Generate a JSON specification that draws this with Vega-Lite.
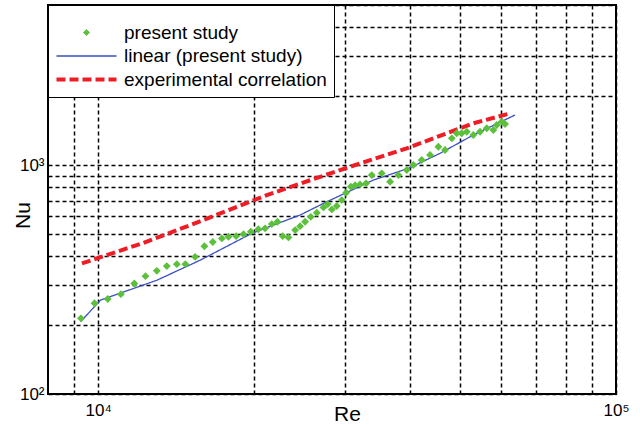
{
  "$schema": "https://vega.github.io/schema/vega-lite/v6.json",
  "width": 568,
  "height": 389,
  "autosize": {"type": "none"},
  "padding": {"left": 48, "top": 5, "right": 24, "bottom": 31},
  "background": "white",
  "config": {
    "font": "Liberation Sans",
    "view": {"stroke": "black", "strokeWidth": 2},
    "axis": {
      "grid": true,
      "gridColor": "black",
      "gridOpacity": 1,
      "gridWidth": 1.5,
      "gridDash": [4, 3],
      "ticks": false,
      "domain": false,
      "labelFont": "Liberation Sans",
      "labelFontSize": 17,
      "labelColor": "black",
      "titleFont": "Liberation Sans",
      "titleFontSize": 21,
      "titleFontWeight": "normal",
      "titleColor": "black"
    },
    "legend": {
      "titleColor": "white",
      "titleFontSize": 4,
      "titlePadding": 7,
      "orient": "none",
      "legendX": 0,
      "legendY": 0,
      "fillColor": "white",
      "strokeColor": "black",
      "padding": 7,
      "symbolSize": 36,
      "symbolOffset": 22,
      "labelOffset": 28,
      "labelFontSize": 19,
      "labelFont": "Liberation Sans",
      "labelColor": "black",
      "labelLimit": 400,
      "rowPadding": 3.5
    }
  },
  "data": {
    "values": [
      {"series": "present study", "Re": 9263, "Nu": 214},
      {"series": "present study", "Re": 9838, "Nu": 249},
      {"series": "present study", "Re": 10435, "Nu": 260},
      {"series": "present study", "Re": 11063, "Nu": 273},
      {"series": "present study", "Re": 11742, "Nu": 304},
      {"series": "present study", "Re": 12340, "Nu": 327},
      {"series": "present study", "Re": 12979, "Nu": 345},
      {"series": "present study", "Re": 13567, "Nu": 362},
      {"series": "present study", "Re": 14187, "Nu": 369},
      {"series": "present study", "Re": 14735, "Nu": 369},
      {"series": "present study", "Re": 15386, "Nu": 397},
      {"series": "present study", "Re": 16036, "Nu": 442},
      {"series": "present study", "Re": 16647, "Nu": 461},
      {"series": "present study", "Re": 17329, "Nu": 478},
      {"series": "present study", "Re": 17848, "Nu": 486},
      {"series": "present study", "Re": 18469, "Nu": 489},
      {"series": "present study", "Re": 19081, "Nu": 499},
      {"series": "present study", "Re": 19713, "Nu": 511},
      {"series": "present study", "Re": 20386, "Nu": 524},
      {"series": "present study", "Re": 21008, "Nu": 529},
      {"series": "present study", "Re": 21640, "Nu": 552},
      {"series": "present study", "Re": 22192, "Nu": 565},
      {"series": "present study", "Re": 22722, "Nu": 489},
      {"series": "present study", "Re": 23305, "Nu": 483},
      {"series": "present study", "Re": 24010, "Nu": 520},
      {"series": "present study", "Re": 24541, "Nu": 541},
      {"series": "present study", "Re": 25093, "Nu": 565},
      {"series": "present study", "Re": 25737, "Nu": 594},
      {"series": "present study", "Re": 26433, "Nu": 619},
      {"series": "present study", "Re": 27231, "Nu": 653},
      {"series": "present study", "Re": 27763, "Nu": 675},
      {"series": "present study", "Re": 28264, "Nu": 640},
      {"series": "present study", "Re": 28889, "Nu": 662},
      {"series": "present study", "Re": 29544, "Nu": 703},
      {"series": "present study", "Re": 30118, "Nu": 757},
      {"series": "present study", "Re": 30753, "Nu": 804},
      {"series": "present study", "Re": 31347, "Nu": 817},
      {"series": "present study", "Re": 32044, "Nu": 823},
      {"series": "present study", "Re": 32916, "Nu": 832},
      {"series": "present study", "Re": 33757, "Nu": 904},
      {"series": "present study", "Re": 35286, "Nu": 920},
      {"series": "present study", "Re": 36620, "Nu": 845},
      {"series": "present study", "Re": 37996, "Nu": 904},
      {"series": "present study", "Re": 39435, "Nu": 951},
      {"series": "present study", "Re": 40616, "Nu": 1000},
      {"series": "present study", "Re": 42148, "Nu": 1052},
      {"series": "present study", "Re": 43743, "Nu": 1106},
      {"series": "present study", "Re": 45389, "Nu": 1202},
      {"series": "present study", "Re": 46758, "Nu": 1163},
      {"series": "present study", "Re": 48179, "Nu": 1308},
      {"series": "present study", "Re": 49251, "Nu": 1376},
      {"series": "present study", "Re": 50364, "Nu": 1376},
      {"series": "present study", "Re": 51497, "Nu": 1398},
      {"series": "present study", "Re": 53023, "Nu": 1353},
      {"series": "present study", "Re": 54632, "Nu": 1398},
      {"series": "present study", "Re": 56282, "Nu": 1447},
      {"series": "present study", "Re": 57954, "Nu": 1422},
      {"series": "present study", "Re": 58842, "Nu": 1496},
      {"series": "present study", "Re": 60163, "Nu": 1547},
      {"series": "present study", "Re": 61052, "Nu": 1511},
      {"series": "linear (present study)", "Re": 9249, "Nu": 207},
      {"series": "linear (present study)", "Re": 10102, "Nu": 257},
      {"series": "linear (present study)", "Re": 12981, "Nu": 314},
      {"series": "linear (present study)", "Re": 15737, "Nu": 384},
      {"series": "linear (present study)", "Re": 19799, "Nu": 503},
      {"series": "linear (present study)", "Re": 24545, "Nu": 605},
      {"series": "linear (present study)", "Re": 27636, "Nu": 691},
      {"series": "linear (present study)", "Re": 34001, "Nu": 860},
      {"series": "linear (present study)", "Re": 39722, "Nu": 967},
      {"series": "linear (present study)", "Re": 45733, "Nu": 1125},
      {"series": "linear (present study)", "Re": 53023, "Nu": 1353},
      {"series": "linear (present study)", "Re": 63830, "Nu": 1654},
      {"series": "experimental correlation", "Re": 9303, "Nu": 372},
      {"series": "experimental correlation", "Re": 12230, "Nu": 457},
      {"series": "experimental correlation", "Re": 15967, "Nu": 575},
      {"series": "experimental correlation", "Re": 21171, "Nu": 739},
      {"series": "experimental correlation", "Re": 29320, "Nu": 951},
      {"series": "experimental correlation", "Re": 39435, "Nu": 1183},
      {"series": "experimental correlation", "Re": 53023, "Nu": 1521},
      {"series": "experimental correlation", "Re": 61859, "Nu": 1671}
    ]
  },
  "encoding": {
    "x": {
      "field": "Re",
      "type": "quantitative",
      "scale": {"type": "log", "domain": [8000, 100000], "nice": false},
      "axis": {
        "title": "Re",
        "values": [9000, 10000, 20000, 30000, 40000, 50000, 60000, 70000, 80000, 90000, 100000],
        "labelExpr": "datum.value == 10000 ? '10⁴' : (datum.value == 100000 ? '10⁵' : '')",
        "labelPadding": 8,
        "labelFlush": false,
        "labelOverlap": false,
        "titleX": 299,
        "titleY": 26,
        "titleBaseline": "alphabetic"
      }
    },
    "y": {
      "field": "Nu",
      "type": "quantitative",
      "scale": {"type": "log", "domain": [100, 5000], "nice": false},
      "axis": {
        "title": "Nu",
        "values": [100, 200, 300, 400, 500, 600, 700, 800, 900, 1000, 2000, 3000, 4000, 5000],
        "labelExpr": "datum.value == 100 ? '10²' : (datum.value == 1000 ? '10³' : '')",
        "labelPadding": 4,
        "labelFlush": false,
        "labelOverlap": false,
        "titleX": -25,
        "titleY": 210,
        "titleBaseline": "middle",
        "titleAngle": -90
      }
    }
  },
  "layer": [
    {
      "transform": [{"filter": "datum.series !== 'present study'"}],
      "mark": {"type": "line"},
      "encoding": {
        "color": {
          "field": "series",
          "type": "nominal",
          "scale": {"domain": ["present study", "linear (present study)", "experimental correlation"], "range": ["#5cc03c", "#3a4fc0", "#ee1c25"]},
          "legend": {"title": "."}
        },
        "strokeDash": {
          "field": "series",
          "type": "nominal",
          "scale": {"domain": ["present study", "linear (present study)", "experimental correlation"], "range": [[1, 0], [1, 0], [9, 4]]},
          "legend": {"title": "."}
        },
        "strokeWidth": {
          "field": "series",
          "type": "ordinal",
          "scale": {"type": "point", "padding": 0, "domain": ["present study", "linear (present study)", "experimental correlation"], "range": [-1.4, 4]},
          "legend": {"title": "."}
        }
      }
    },
    {
      "transform": [{"filter": "datum.series === 'present study'"}],
      "mark": {"type": "point", "filled": true, "opacity": 1, "size": 62},
      "encoding": {
        "color": {"field": "series", "type": "nominal", "legend": {"title": "."}},
        "shape": {
          "field": "series",
          "type": "nominal",
          "scale": {"domain": ["present study", "linear (present study)", "experimental correlation"], "range": ["diamond", "M-10,0H10", "M-10,0H10"]},
          "legend": {"title": "."}
        }
      }
    }
  ]
}
